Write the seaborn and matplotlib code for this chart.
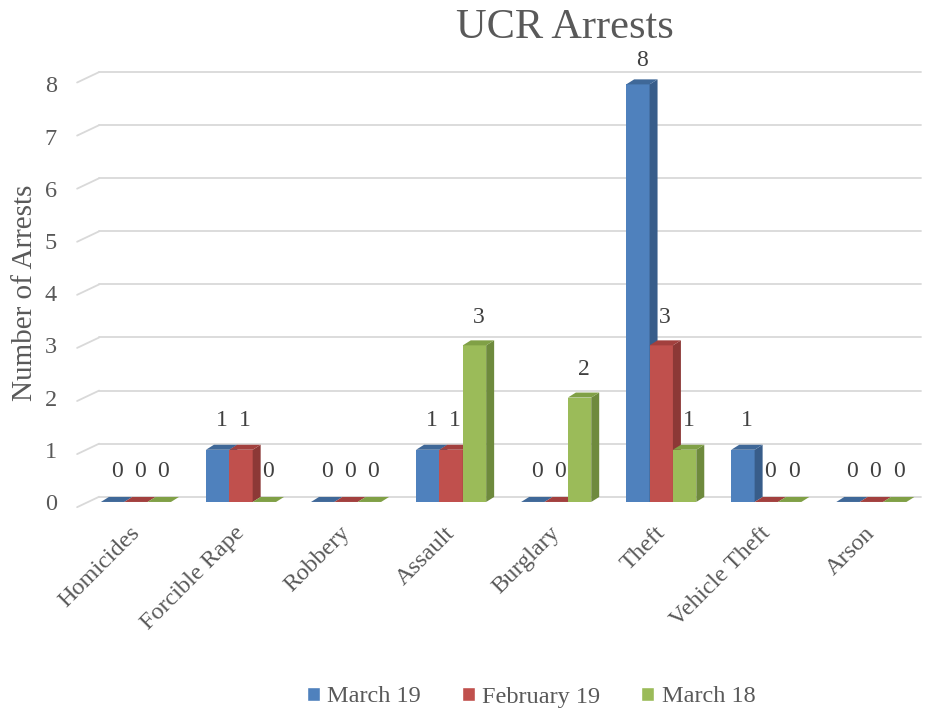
import numpy as np
import pandas as pd
import matplotlib
matplotlib.use("Agg")
import matplotlib.pyplot as plt
import matplotlib.transforms as mtransforms
import seaborn as sns
from matplotlib.patches import Polygon

# ===== DATA =====
categories = ["Homicides", "Forcible Rape", "Robbery", "Assault",
              "Burglary", "Theft", "Vehicle Theft", "Arson"]
series = ["March 19", "February 19", "March 18"]
march_19 = [0, 1, 0, 1, 0, 8, 1, 0]
february_19 = [0, 1, 0, 1, 0, 3, 0, 0]
march_18 = [0, 0, 0, 3, 2, 1, 0, 0]
y_ticks = [0, 1, 2, 3, 4, 5, 6, 7, 8]

front_colors = ["#4F81BD", "#C0504D", "#9BBB59"]
side_colors = ["#385D8A", "#8C3836", "#6E8A3D"]
top_colors = ["#3F6898", "#A2403E", "#80A046"]
text_gray = "#595959"

df = pd.DataFrame({
    "Category": categories * 3,
    "Series": np.repeat(series, len(categories)),
    "Count": march_19 + february_19 + march_18,
})

sns.set_style("white")
plt.rcParams['font.family'] = ['Liberation Serif', 'DejaVu Serif']

fig = plt.figure(figsize=(9.29, 7.13), dpi=100)
ax = fig.add_axes([75 / 929, (713 - 512.4) / 713, 851 / 929, 448.9 / 713])

sns.barplot(data=df, x="Category", y="Count", hue="Series", hue_order=series,
            palette=front_colors, width=0.667, saturation=1, ax=ax)

# 3D depth of bars (data units)
dx, dy = 0.076, 0.096
for i, cont in enumerate(ax.containers):
    for bar in cont:
        x0 = bar.get_x()
        w = bar.get_width()
        h = bar.get_height()
        x1 = x0 + w
        bar.set_zorder(3 + i)
        bar.set_edgecolor("none")
        side = Polygon([(x1, 0), (x1 + dx, dy), (x1 + dx, h + dy), (x1, h)],
                       closed=True, facecolor=side_colors[i], edgecolor="none", zorder=3 + i)
        top = Polygon([(x0, h), (x0 + dx, h + dy), (x1 + dx, h + dy), (x1, h)],
                      closed=True, facecolor=top_colors[i], edgecolor="none", zorder=3 + i)
        ax.add_patch(side)
        ax.add_patch(top)
        # label sits a bit closer on taller bars (perspective)
        ax.annotate(f"{int(h)}", (x0 + w / 2 + dx / 2, h), xytext=(0, 30 - 0.8 * h),
                    textcoords="offset pixels", ha="center", va="center",
                    fontsize=17, color="#404040", zorder=10)

# back wall gridlines with perspective corner
for v in y_ticks:
    yb = v * 1.017 + 0.1
    yf = v * 1.017 - 0.1
    ax.plot([-0.56, -0.35], [yf, yb], color="#D9D9D9", lw=1.3, zorder=1)
    ax.plot([-0.35, 7.47], [yb, yb], color="#D9D9D9", lw=1.3, zorder=1)

ax.set_xlim(-0.58, 7.52)
ax.set_ylim(-0.2, 8.4)
ax.set_yticks(y_ticks)
ax.set_yticklabels([str(t) for t in y_ticks], fontsize=17.5, color=text_gray)
ax.tick_params(axis="y", length=0, pad=13)
ax.tick_params(axis="x", length=0, pad=0)
ax.set_xticks(range(len(categories)))
ax.set_xticklabels(categories, rotation=45, ha="right", rotation_mode="anchor",
                   fontsize=17.5, color=text_gray)
offset = mtransforms.ScaledTranslation(-0.07, -0.10, fig.dpi_scale_trans)
for lab in ax.get_xticklabels():
    lab.set_transform(lab.get_transform() + offset)
ax.set_xlabel("")
ax.set_ylabel("Number of Arrests", fontsize=21, color=text_gray)
ax.yaxis.set_label_coords(-0.043, 0.49)
for s in ax.spines.values():
    s.set_visible(False)

fig.text(565 / 929, 1 - 28 / 713, "UCR Arrests", ha="center", va="center",
         fontsize=30.5, color=text_gray)

sns.move_legend(ax, "center", bbox_to_anchor=(531 / 929, 1 - 697 / 713),
                bbox_transform=fig.transFigure, ncol=3, frameon=False, title=None,
                fontsize=17.5, handlelength=0.55, handleheight=0.55,
                columnspacing=1.67, handletextpad=0.3)
for t in ax.get_legend().get_texts():
    t.set_color(text_gray)

fig.savefig("out.png", dpi=100)
